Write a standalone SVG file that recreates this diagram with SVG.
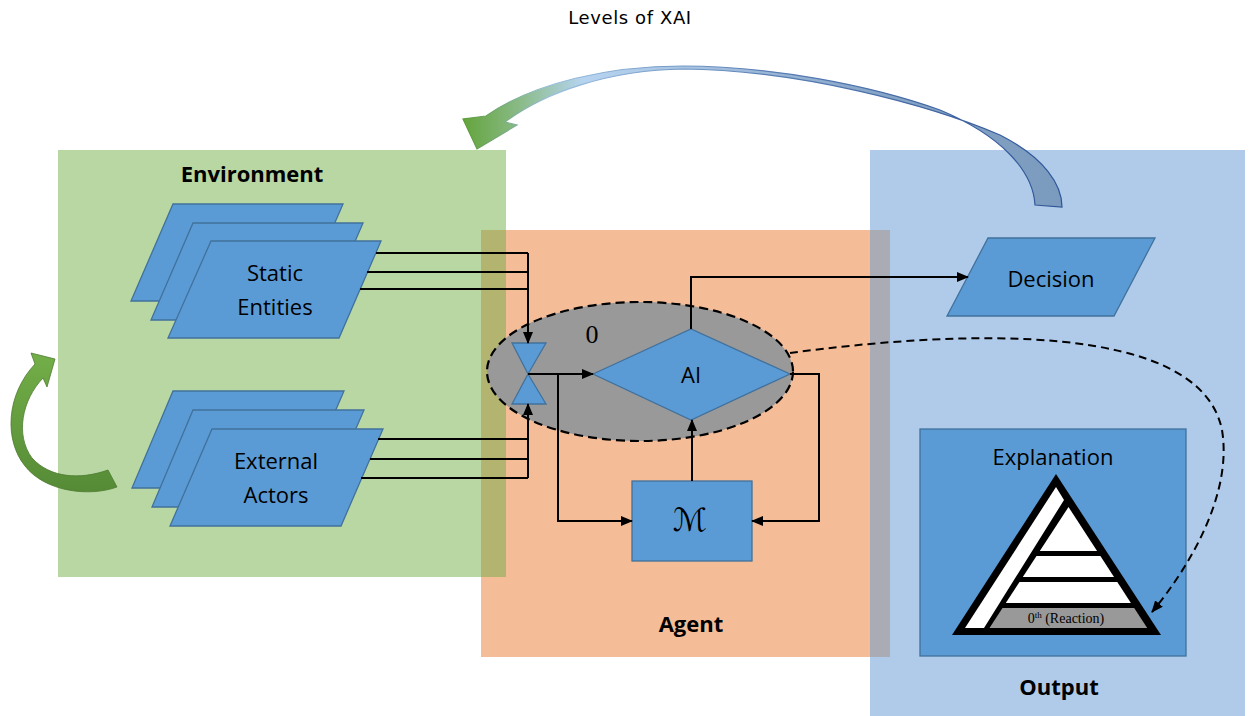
<svg xmlns="http://www.w3.org/2000/svg" width="1253" height="716" viewBox="0 0 1253 716">
<style>
.node{fill:#5b9bd5;stroke:#41719c;stroke-width:1.3}
.lbl{font-family:"Open Sans","Noto Sans",sans-serif;font-size:22px;fill:#000;text-anchor:middle}
.bold{font-family:"Open Sans","Noto Sans",sans-serif;font-size:22px;font-weight:bold;fill:#000;text-anchor:middle}
.conn{fill:none;stroke:#000;stroke-width:2}
</style>
<defs>
<marker id="arr" markerUnits="userSpaceOnUse" markerWidth="12" markerHeight="10" refX="11" refY="5" orient="auto">
<path d="M0,0 L12,5 L0,10 z" fill="#000"/>
</marker>
<linearGradient id="gTop" x1="463" y1="0" x2="1062" y2="0" gradientUnits="userSpaceOnUse">
<stop offset="0" stop-color="#64a43c"/>
<stop offset="0.1" stop-color="#8cbc8c"/>
<stop offset="0.2" stop-color="#b6d4f0"/>
<stop offset="0.4" stop-color="#a4c1e0"/>
<stop offset="0.7" stop-color="#86a4c6"/>
<stop offset="1" stop-color="#7b9bbe"/>
</linearGradient>
<linearGradient id="gTopS" x1="463" y1="0" x2="1062" y2="0" gradientUnits="userSpaceOnUse">
<stop offset="0" stop-color="#5a9a34"/>
<stop offset="0.15" stop-color="#9cc0e0"/>
<stop offset="0.5" stop-color="#5b7fb5"/>
<stop offset="1" stop-color="#2f5597"/>
</linearGradient>
<linearGradient id="gLeft" x1="0" y1="355" x2="0" y2="495" gradientUnits="userSpaceOnUse">
<stop offset="0" stop-color="#72ae48"/>
<stop offset="1" stop-color="#558a35"/>
</linearGradient>
</defs>

<g id="regions">
<rect x="481" y="230" width="409" height="427" fill="#f5bd97"/>
<rect x="58" y="150" width="448" height="427" fill="#b8d7a3"/>
<rect x="870" y="150" width="375" height="566" fill="#afcbe9"/>
<rect x="481" y="230" width="25" height="347" fill="#b3b46f"/>
<rect x="870" y="230" width="20" height="427" fill="#a9abb5"/>
</g>

<text x="630" y="24" font-family="'DejaVu Sans',sans-serif" font-size="18" letter-spacing="0.6" text-anchor="middle">Levels of XAI</text>
<text class="bold" x="252" y="182">Environment</text>
<text class="bold" x="691" y="632">Agent</text>
<text class="bold" x="1059" y="695">Output</text>

<g id="top-arrow">
<path d="M 1035 205 C 1033 170, 1000 135, 940 110 C 870 85, 770 66, 683 66 C 610 66, 535 82, 486 116 L 463 119 L 477 149 L 517 125 L 505 122 C 545 92, 610 70, 683 69 C 800 70, 930 105, 1000 135 C 1045 158, 1062 185, 1062 207 Z" fill="url(#gTop)" stroke="url(#gTopS)" stroke-width="1.2"/>
</g>

<g id="env-loop-arrow">
<path d="M 117 487 C 90 497, 45 492, 25 466 C 4 440, 6 395, 35 364 L 31 353 L 55 359 L 47 387 L 43 378 C 22 400, 15 435, 32 458 C 50 478, 80 480, 108 470 Z" fill="url(#gLeft)" stroke="#4e7a30" stroke-width="0.8"/>
</g>

<g id="static-entities">
<polygon class="node" points="173,204 343,204 301,301 131,301"/>
<polygon class="node" points="193,223 363,223 321,320 151,320"/>
<polygon class="node" points="211,241 381,241 339,338 168,338"/>
<text class="lbl" x="275" y="281">Static</text>
<text class="lbl" x="275" y="315">Entities</text>
</g>

<g id="external-actors">
<polygon class="node" points="173,391 344,391 302,488 132,488"/>
<polygon class="node" points="193,410 364,410 322,507 152,507"/>
<polygon class="node" points="212,429 383,429 341,526 170,526"/>
<text class="lbl" x="276" y="469">External</text>
<text class="lbl" x="276" y="503">Actors</text>
</g>

<g id="scope-ellipse">
<ellipse cx="640" cy="371.5" rx="153" ry="69.5" fill="#999999" stroke="#000" stroke-width="2.2" stroke-dasharray="9,5"/>
<text x="592" y="343" font-family="'Liberation Serif',serif" font-size="26" text-anchor="middle">0</text>
</g>

<g id="hourglass">
<polygon class="node" points="512,343 546,343 528,374"/>
<polygon class="node" points="528,374 546,404 512,404"/>
</g>

<g id="ai">
<polygon class="node" points="593,374 691,329 790,374 691,420"/>
<text class="lbl" x="691" y="383">AI</text>
</g>

<g id="model">
<rect class="node" x="632" y="481" width="120" height="80"/>
<text x="690" y="531" font-family="'DejaVu Sans','DejaVu Serif',serif" font-size="32" text-anchor="middle">ℳ</text>
</g>

<g id="decision">
<polygon class="node" points="988,238 1155,238 1114,316 947,316"/>
<text class="lbl" x="1051" y="287">Decision</text>
</g>

<g id="explanation">
<rect class="node" x="920" y="429" width="266" height="227"/>
<text class="lbl" x="1053" y="465">Explanation</text>
<polygon points="1056,474 1161,635 952,635" fill="#000"/>
<polygon points="1056,487 1064,500 984,628 965,628" fill="#fff"/>
<polygon points="1068.5,507 1097.1,551 1039.8,551" fill="#fff"/>
<polygon points="1036.5,556 1100.4,556 1114,577 1022.8,577" fill="#fff"/>
<polygon points="1019.5,582 1117.3,582 1130.9,603 1005.8,603" fill="#fff"/>
<polygon points="1002.5,608 1134.2,608 1147.2,628 989.5,628" fill="#999999"/>
<text x="1066" y="623" font-family="'Liberation Serif',serif" font-size="14" text-anchor="middle">0<tspan font-size="9" dy="-5">th</tspan><tspan dy="5"> (Reaction)</tspan></text>
</g>

<g id="connectors">
<polyline class="conn" points="376,253 528,253"/>
<polyline class="conn" points="367,272 528,272"/>
<polyline class="conn" points="360,289 528,289"/>
<polyline class="conn" points="528,253 528,343" marker-end="url(#arr)"/>
<polyline class="conn" points="378,439 528,439"/>
<polyline class="conn" points="370,459 528,459"/>
<polyline class="conn" points="361,478 528,478"/>
<polyline class="conn" points="528,478 528,404" marker-end="url(#arr)"/>
<polyline class="conn" points="528,374 593,374" marker-end="url(#arr)"/>
<polyline class="conn" points="558,374 558,521 632,521" marker-end="url(#arr)"/>
<polyline class="conn" points="692,481 692,420" marker-end="url(#arr)"/>
<polyline class="conn" points="790,374 819,374 819,521 752,521" marker-end="url(#arr)"/>
<polyline class="conn" points="691,329 691,277 968,277" marker-end="url(#arr)"/>
<path class="conn" d="M 790 353 C 960 330, 1200 320, 1222 430 C 1232 490, 1195 560, 1152 612" stroke-dasharray="8,5" marker-end="url(#arr)"/>
</g>
</svg>
